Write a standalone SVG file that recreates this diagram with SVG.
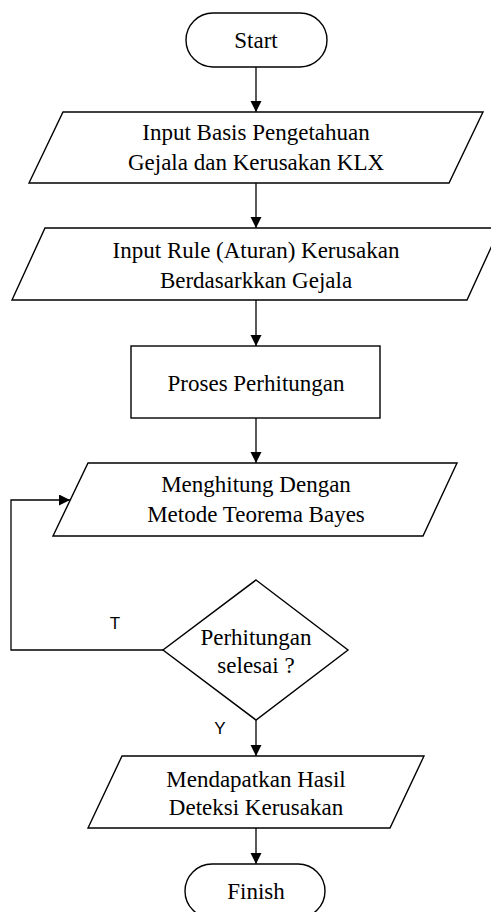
<svg xmlns="http://www.w3.org/2000/svg" width="491" height="912" viewBox="0 0 491 912">
<defs>
<style>
.s{fill:#fff;stroke:#000;stroke-width:1.4}
.t{font-family:"Liberation Serif","Times New Roman",serif;font-size:23px;fill:#000;text-anchor:middle}
.l{font-family:"Liberation Sans",Arial,sans-serif;font-size:17px;fill:#000;text-anchor:middle}
.c{fill:none;stroke:#000;stroke-width:1.3}
</style>
<marker id="a" markerUnits="userSpaceOnUse" markerWidth="12" markerHeight="12" refX="11" refY="5.5" orient="auto">
<path d="M0,0 L11,5.5 L0,11 Z" fill="#000"/>
</marker>
</defs>
<g id="connectors">
<path class="c" d="M256,67 V112" marker-end="url(#a)"/>
<path class="c" d="M256,183 V228" marker-end="url(#a)"/>
<path class="c" d="M256,300 V346" marker-end="url(#a)"/>
<path class="c" d="M256,418 V463" marker-end="url(#a)"/>
<path class="c" d="M163,650 H11 V500 H70" marker-end="url(#a)"/>
<path class="c" d="M256,720 V756" marker-end="url(#a)"/>
<path class="c" d="M256,828 V864" marker-end="url(#a)"/>
<text class="l" x="115" y="629">T</text>
<text class="l" x="220" y="734">Y</text>
</g>
<g id="start">
<rect class="s" x="186" y="13" width="141" height="54" rx="27"/>
<text class="t" x="256" y="48">Start</text>
</g>
<g id="input-basis">
<polygon class="s" points="63,112 483,112 449,183 29,183"/>
<text class="t" x="256" y="140">Input Basis Pengetahuan</text>
<text class="t" x="256" y="170">Gejala dan Kerusakan KLX</text>
</g>
<g id="input-rule">
<polygon class="s" points="45,228 500,228 467,300 12,300"/>
<text class="t" x="256" y="258">Input Rule (Aturan) Kerusakan</text>
<text class="t" x="256" y="288">Berdasarkkan Gejala</text>
</g>
<g id="proses">
<rect class="s" x="131" y="346" width="249" height="72"/>
<text class="t" x="256" y="391">Proses Perhitungan</text>
</g>
<g id="menghitung">
<polygon class="s" points="88,463 457,463 423,536 53,536"/>
<text class="t" x="256" y="492">Menghitung Dengan</text>
<text class="t" x="256" y="522">Metode Teorema Bayes</text>
</g>
<g id="decision">
<polygon class="s" points="256,580 348,650 256,720 163,650"/>
<text class="t" x="256" y="645">Perhitungan</text>
<text class="t" x="256" y="673">selesai ?</text>
</g>
<g id="hasil">
<polygon class="s" points="122,756 424,756 390,828 88,828"/>
<text class="t" x="256" y="787">Mendapatkan Hasil</text>
<text class="t" x="256" y="815">Deteksi Kerusakan</text>
</g>
<g id="finish">
<rect class="s" x="185" y="864" width="140" height="54" rx="27"/>
<text class="t" x="256" y="899">Finish</text>
</g>
</svg>
